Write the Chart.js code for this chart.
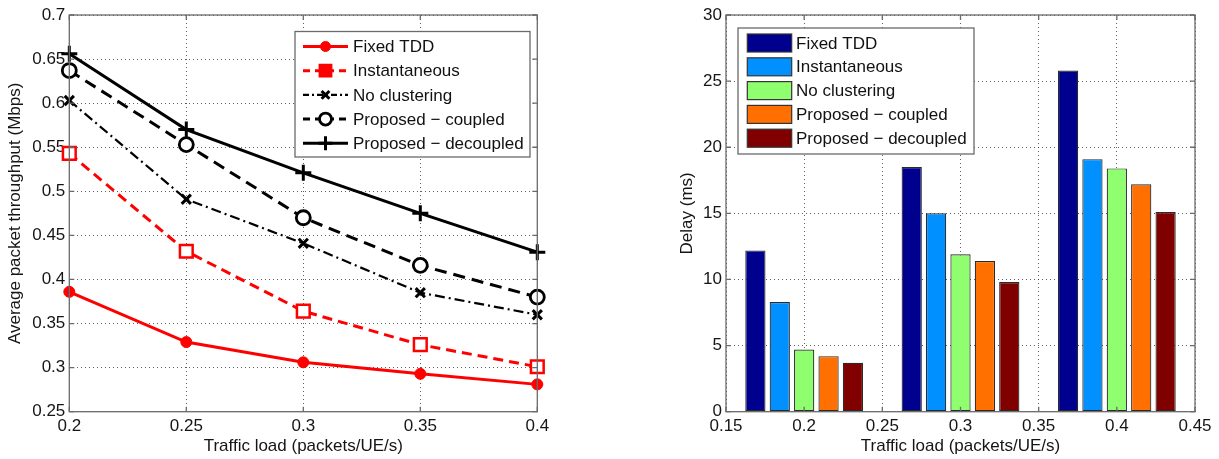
<!DOCTYPE html>
<html><head><meta charset="utf-8">
<script src="https://cdn.jsdelivr.net/npm/chart.js@4.4.0/dist/chart.umd.min.js"></script>
<style>
html,body{margin:0;padding:0;background:#fff;overflow:hidden;}
#w1{position:absolute;left:0;top:0;width:610px;height:459px;}
#w2{position:absolute;left:610px;top:0;width:609px;height:459px;}
</style></head><body>
<div id="w1"><canvas id="c1"></canvas></div>
<div id="w2"><canvas id="c2"></canvas></div>
<script>
// ---- data ----
const seriesNames = ['Fixed TDD', 'Instantaneous', 'No clustering', 'Proposed \u2212 coupled', 'Proposed \u2212 decoupled'];
const loadX = [0.2, 0.25, 0.3, 0.35, 0.4];
const thrFixedTDD      = [0.386, 0.329, 0.306, 0.293, 0.281];
const thrInstantaneous = [0.543, 0.432, 0.364, 0.326, 0.301];
const thrNoClustering  = [0.603, 0.491, 0.441, 0.385, 0.360];
const thrCoupled       = [0.637, 0.553, 0.470, 0.416, 0.380];
const thrDecoupled     = [0.656, 0.570, 0.521, 0.475, 0.431];
const leftXTicks = [0.2, 0.25, 0.3, 0.35, 0.4];
const leftXTickLabels = ['0.2', '0.25', '0.3', '0.35', '0.4'];
const leftYTicks = [0.25, 0.3, 0.35, 0.4, 0.45, 0.5, 0.55, 0.6, 0.65, 0.7];
const leftYTickLabels = ['0.25', '0.3', '0.35', '0.4', '0.45', '0.5', '0.55', '0.6', '0.65', '0.7'];

const barGroups = ['0.2', '0.3', '0.4'];
const delayFixedTDD      = [12.2, 18.5, 25.8];
const delayInstantaneous = [8.3, 15.0, 19.1];
const delayNoClustering  = [4.7, 11.9, 18.4];
const delayCoupled       = [4.2, 11.4, 17.2];
const delayDecoupled     = [3.7, 9.8, 15.1];
const rightXTicks = [0.15, 0.2, 0.25, 0.3, 0.35, 0.4, 0.45];
const rightXTickLabels = ['0.15', '0.2', '0.25', '0.3', '0.35', '0.4', '0.45'];
const rightYTicks = [0, 5, 10, 15, 20, 25, 30];
const rightYTickLabels = ['0', '5', '10', '15', '20', '25', '30'];

// ---- defaults ----
Chart.defaults.font.family = '"Liberation Sans", Arial, Helvetica, sans-serif';
Chart.defaults.font.size = 17;
Chart.defaults.color = '#151515';

const GRID = 'rgba(40,40,40,0.75)';
const FRAME = '#6a6a6a';

const framePlugin = {
  id: 'frame',
  afterDraw(chart, args, opts) {
    const ctx = chart.ctx, a = chart.chartArea;
    const xs = chart.scales[opts.xScale], ys = chart.scales[opts.yScale];
    ctx.save();
    ctx.strokeStyle = FRAME; ctx.lineWidth = 1.3; ctx.setLineDash([]);
    ctx.beginPath();
    xs.ticks.forEach(t => { const p = xs.getPixelForValue(t.value);
      ctx.moveTo(p, a.bottom); ctx.lineTo(p, a.bottom - 5);
      ctx.moveTo(p, a.top); ctx.lineTo(p, a.top + 5); });
    ys.ticks.forEach(t => { const p = ys.getPixelForValue(t.value);
      ctx.moveTo(a.left, p); ctx.lineTo(a.left + 5, p);
      ctx.moveTo(a.right, p); ctx.lineTo(a.right - 5, p); });
    ctx.stroke();
    ctx.strokeRect(a.left, a.top, a.right - a.left, a.bottom - a.top);
    const L = opts.legend;
    ctx.fillStyle = '#fff';
    ctx.fillRect(L.box[0], L.box[1], L.box[2] - L.box[0], L.box[3] - L.box[1]);
    ctx.strokeStyle = FRAME; ctx.lineWidth = 1.3;
    ctx.strokeRect(L.box[0], L.box[1], L.box[2] - L.box[0], L.box[3] - L.box[1]);
    chart.data.datasets.forEach((ds, i) => {
      const y = L.rowY0 + i * L.rowStep;
      if (L.kind === 'line') {
        ctx.beginPath();
        ctx.strokeStyle = ds.borderColor; ctx.lineWidth = ds.borderWidth;
        ctx.setLineDash(ds.legendDash || []);
        ctx.moveTo(L.sample[0], y); ctx.lineTo(L.sample[1], y); ctx.stroke();
        ctx.setLineDash([]);
        const cx = (L.sample[0] + L.sample[1]) / 2;
        ctx.fillStyle = ds.legendPointBg || ds.pointBackgroundColor;
        ctx.strokeStyle = ds.pointBorderColor;
        ctx.lineWidth = ds.pointBorderWidth;
        Chart.helpers.drawPoint(ctx, {pointStyle: ds.pointStyle, radius: ds.legendRadius || ds.pointRadius, rotation: 0, borderWidth: ds.pointBorderWidth}, cx, y);
      } else {
        ctx.fillStyle = ds.backgroundColor; ctx.strokeStyle = '#333'; ctx.lineWidth = 1.2;
        ctx.fillRect(L.sample[0], y - L.swH / 2, L.sample[1] - L.sample[0], L.swH);
        ctx.strokeRect(L.sample[0], y - L.swH / 2, L.sample[1] - L.sample[0], L.swH);
      }
      ctx.fillStyle = '#111'; ctx.font = '17px "Liberation Sans", Arial, sans-serif';
      ctx.textBaseline = 'middle'; ctx.textAlign = 'left';
      ctx.fillText(ds.label, L.textX, y + 1);
    });
    ctx.restore();
  }
};

const pts = arr => loadX.map((x, i) => ({x: x, y: arr[i]}));
const labelFrom = (vals, labels) => v => { const k = vals.findIndex(t => Math.abs(t - v) < 1e-9); return k >= 0 ? labels[k] : ''; };

new Chart(document.getElementById('c1'), {
  type: 'line',
  data: { datasets: [
    { label: seriesNames[0], data: pts(thrFixedTDD), borderColor: '#ff0000', borderWidth: 3,
      pointStyle: 'circle', pointRadius: 5.5, pointBackgroundColor: '#ff0000', pointBorderColor: '#ff0000', pointBorderWidth: 1, legendRadius: 5 },
    { label: seriesNames[1], data: pts(thrInstantaneous), borderColor: '#ff0000', borderWidth: 3, borderDash: [10, 6], legendDash: [7, 5],
      pointStyle: 'rect', pointRadius: 9, pointBackgroundColor: '#ffffff', pointBorderColor: '#ff0000', pointBorderWidth: 2.5, legendPointBg: '#ff0000', legendRadius: 8 },
    { label: seriesNames[2], data: pts(thrNoClustering), borderColor: '#000', borderWidth: 2.2, borderDash: [10, 4, 2, 4], legendDash: [6, 3, 2, 3],
      pointStyle: 'crossRot', pointRadius: 6.5, pointBackgroundColor: '#000', pointBorderColor: '#000', pointBorderWidth: 3, legendRadius: 5.5 },
    { label: seriesNames[3], data: pts(thrCoupled), borderColor: '#000', borderWidth: 3, borderDash: [12, 7], legendDash: [7, 5],
      pointStyle: 'circle', pointRadius: 7, pointBackgroundColor: '#ffffff', pointBorderColor: '#000', pointBorderWidth: 2.8, legendRadius: 6 },
    { label: seriesNames[4], data: pts(thrDecoupled), borderColor: '#000', borderWidth: 3,
      pointStyle: 'cross', pointRadius: 8, pointBackgroundColor: '#000', pointBorderColor: '#000', pointBorderWidth: 3, legendRadius: 7 }
  ].map(d => Object.assign({tension: 0, clip: false, fill: false}, d)) },
  options: {
    responsive: true, maintainAspectRatio: false, animation: false, devicePixelRatio: 1,
    layout: { padding: { left: 0, top: 15, right: 72.7, bottom: 0 } },
    plugins: { legend: { display: false }, tooltip: { enabled: false },
      frame: { xScale: 'x', yScale: 'y',
        legend: { kind: 'line', box: [295, 31.5, 530, 157], sample: [303, 348], textX: 353, rowY0: 46.5, rowStep: 24.2 } } },
    scales: {
      x: { type: 'linear', min: 0.2, max: 0.4,
        afterBuildTicks: s => { s.ticks = leftXTicks.map(v => ({value: v})); },
        afterFit: s => { s.height = 47.3; },
        ticks: { padding: 4, maxRotation: 0, autoSkip: false, callback: labelFrom(leftXTicks, leftXTickLabels) },
        grid: { drawTicks: false, color: GRID, lineWidth: 1 },
        border: { display: false, dash: [1, 3] },
        title: { display: true, text: 'Traffic load (packets/UE/s)', padding: { top: 0, bottom: 2 } } },
      y: { type: 'linear', min: 0.25, max: 0.7,
        afterBuildTicks: s => { s.ticks = leftYTicks.map(v => ({value: v})); },
        afterFit: s => { s.width = 69.3; },
        ticks: { padding: 4, autoSkip: false, callback: labelFrom(leftYTicks, leftYTickLabels) },
        grid: { drawTicks: false, color: GRID, lineWidth: 1 },
        border: { display: false, dash: [1, 3] },
        title: { display: true, text: 'Average packet throughput (Mbps)', padding: { top: 5, bottom: 0 } } }
    }
  },
  plugins: [framePlugin]
});

const barColors = ['#00008f', '#0090ff', '#8fff70', '#ff7000', '#800000'];
const delaySeries = [delayFixedTDD, delayInstantaneous, delayNoClustering, delayCoupled, delayDecoupled];

new Chart(document.getElementById('c2'), {
  type: 'bar',
  data: { labels: barGroups,
    datasets: delaySeries.map((arr, i) => ({ label: seriesNames[i], data: arr, xAxisID: 'x', yAxisID: 'y',
      backgroundColor: barColors[i], borderColor: '#2a2a2a', borderWidth: 1.2, borderSkipped: false,
      categoryPercentage: 0.78, barPercentage: 0.83 })) },
  options: {
    responsive: true, maintainAspectRatio: false, animation: false, devicePixelRatio: 1,
    layout: { padding: { left: 0, top: 15, right: 24, bottom: 0 } },
    plugins: { legend: { display: false }, tooltip: { enabled: false },
      frame: { xScale: 'xt', yScale: 'y',
        legend: { kind: 'bar', box: [128, 28, 364, 154], sample: [137.3, 181.7], swH: 18, textX: 186, rowY0: 43, rowStep: 23.8 } } },
    scales: {
      x: { type: 'category', display: false, offset: true },
      xt: { type: 'linear', position: 'bottom', min: 0.15, max: 0.45, offset: false,
        afterBuildTicks: s => { s.ticks = rightXTicks.map(v => ({value: v})); },
        afterFit: s => { s.height = 47.3; },
        ticks: { padding: 4, maxRotation: 0, autoSkip: false, callback: labelFrom(rightXTicks, rightXTickLabels) },
        grid: { drawTicks: false, color: GRID, lineWidth: 1, offset: false },
        border: { display: false, dash: [1, 3] },
        title: { display: true, text: 'Traffic load (packets/UE/s)', padding: { top: 0, bottom: 2 } } },
      y: { type: 'linear', min: 0, max: 30, beginAtZero: true,
        afterBuildTicks: s => { s.ticks = rightYTicks.map(v => ({value: v})); },
        afterFit: s => { s.width = 116; },
        ticks: { padding: 4, autoSkip: false, callback: labelFrom(rightYTicks, rightYTickLabels) },
        grid: { drawTicks: false, color: GRID, lineWidth: 1 },
        border: { display: false, dash: [1, 3] },
        title: { display: true, text: 'Delay (ms)', padding: { top: 66.8, bottom: 0 } } }
    }
  },
  plugins: [framePlugin]
});
</script>
</body></html>
